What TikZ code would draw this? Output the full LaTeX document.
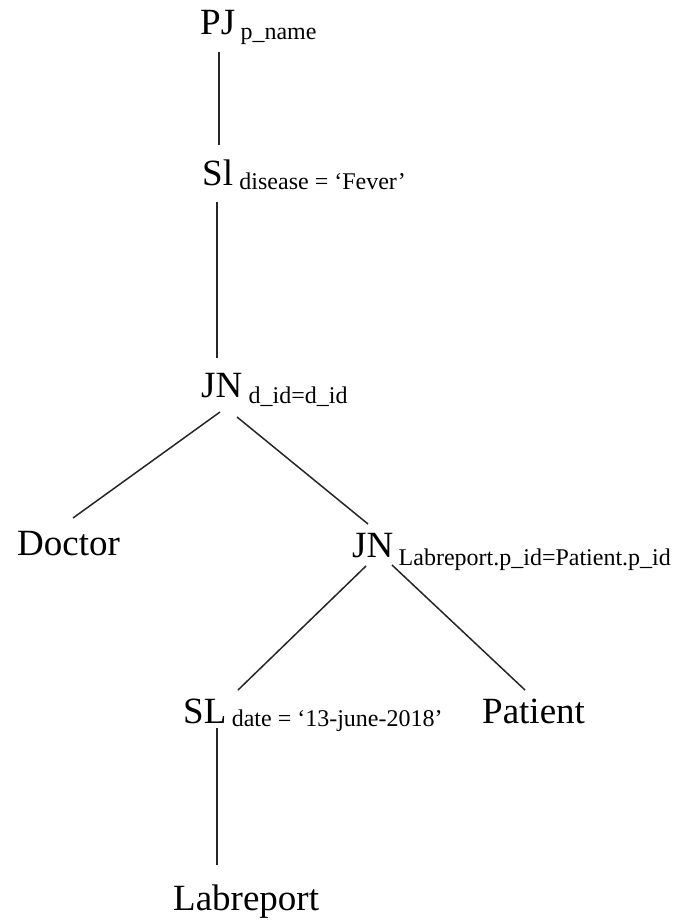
\documentclass[tikz,border=0pt]{standalone}
\usepackage{fontspec}
\setmainfont{Liberation Serif}
\usetikzlibrary{calc}
\begin{document}
\begin{tikzpicture}[x=1pt,y=-1pt,
  mainlbl/.style={anchor=base west,inner sep=0pt,font=\fontsize{37}{40}\selectfont},
  sublbl/.style={anchor=base west,inner sep=0pt,font=\fontsize{24}{27}\selectfont},
  edge/.style={line width=1.5pt,color=black!85}]
\useasboundingbox (0,0) rectangle (685,923);
\node[mainlbl] (pj) at (200,35) {PJ};
\node[sublbl] (pjs) at ($(pj.base east)+(5,5)$) {p\_name};
\node[mainlbl] (sl) at (202,185) {Sl};
\node[sublbl] (sls) at ($(sl.base east)+(6,4)$) {disease = ‘Fever’};
\node[mainlbl] (jn) at (201,397) {JN};
\node[sublbl] (jns) at ($(jn.base east)+(6,6)$) {d\_id=d\_id};
\node[mainlbl] (doc) at (17,555) {Doctor};
\node[mainlbl] (jn2) at (352,557) {JN};
\node[sublbl] (jn2s) at ($(jn2.base east)+(5,8)$) {Labreport.p\_id=Patient.p\_id};
\node[mainlbl] (sl2) at (183,723) {SL};
\node[sublbl] (sl2s) at ($(sl2.base east)+(5,3)$) {date = ‘13-june-2018’};
\node[mainlbl] (pat) at (482,723) {Patient};
\node[mainlbl] (lab) at (173,910) {Labreport};
\draw[edge] ($(pj.base west)+(19,17)$) -- ($(sl.base west)+(17,-40)$);
\draw[edge] ($(sl.base west)+(15,17)$) -- ($(jn.base west)+(16,-39)$);
\draw[edge] ($(jn.base west)+(19,15)$) -- ($(doc.base west)+(56,-37)$);
\draw[edge] ($(jn.base west)+(36,20)$) -- ($(jn2.base west)+(16,-33)$);
\draw[edge] ($(jn2.base west)+(14,9)$) -- ($(sl2.base west)+(55,-33)$);
\draw[edge] ($(jn2.base west)+(40,8)$) -- ($(pat.base west)+(43,-33)$);
\draw[edge] ($(sl2.base west)+(34,5)$) -- ($(lab.base west)+(44,-45)$);
\end{tikzpicture}
\end{document}
